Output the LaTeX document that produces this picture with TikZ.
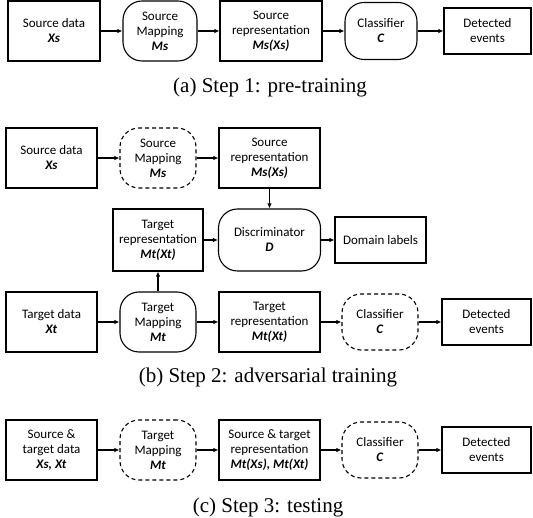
\documentclass[tikz,border=0pt]{standalone}
\usepackage{fontspec}
\setmainfont{Liberation Serif}
\newfontfamily\boxfont{Carlito}
\usetikzlibrary{arrows.meta}
\tikzset{
  base/.style={draw, line width=1.1pt, inner sep=0pt, align=center,
    font=\boxfont\fontsize{13}{15}\selectfont},
  sqbox/.style={base, rectangle},
  rbox/.style={base, rectangle, rounded corners=19pt},
  dbox/.style={rbox, dash pattern=on 4pt off 3pt},
  arr/.style={line width=1.1pt, -{Latex[length=5pt,width=4.5pt]}},
  captxt/.style={font=\fontsize{21}{23}\selectfont, inner sep=0pt},
}
\newcommand{\bi}[1]{\textbf{\textit{#1}}}
\begin{document}
\begin{tikzpicture}[x=1pt,y=-1pt]
\useasboundingbox (0,0) rectangle (533,518);
% (a)
\node[sqbox, minimum width=92pt, minimum height=60pt] (a1) at (54,31) {Source data\\\bi{Xs}};
\node[rbox, minimum width=74pt, minimum height=60pt] (a2) at (160,31) {Source\\Mapping\\\bi{Ms}};
\node[sqbox, minimum width=102pt, minimum height=60pt] (a3) at (271,31) {Source\\representation\\\bi{Ms(Xs)}};
\node[rbox, minimum width=72pt, minimum height=57pt] (a4) at (381,31) {Classifier\\\bi{C}};
\node[sqbox, minimum width=87pt, minimum height=46pt] (a5) at (487.5,31) {Detected\\events};
\draw[arr] (a1) -- (a2);
\draw[arr] (a2) -- (a3);
\draw[arr] (a3) -- (a4);
\draw[arr] (a4) -- (a5);
\node[captxt] (capa) at (270,87) {(a) Step 1: pre-training};
% (b)
\node[sqbox, minimum width=91pt, minimum height=60pt] (b1) at (51.5,158) {Source data\\\bi{Xs}};
\node[dbox, minimum width=76pt, minimum height=60pt] (b2) at (158,158) {Source\\Mapping\\\bi{Ms}};
\node[sqbox, minimum width=101pt, minimum height=60pt] (b3) at (269.5,158) {Source\\representation\\\bi{Ms(Xs)}};
\node[sqbox, minimum width=90pt, minimum height=62pt] (b4) at (158,240) {Target\\representation\\\bi{Mt(Xt)}};
\node[rbox, minimum width=102pt, minimum height=62pt] (b5) at (269.5,240) {Discriminator\\\bi{D}};
\node[sqbox, minimum width=91pt, minimum height=46pt] (b6) at (380.5,240) {Domain labels};
\node[sqbox, minimum width=91pt, minimum height=60pt] (b7) at (51.5,322) {Target data\\\bi{Xt}};
\node[rbox, minimum width=76pt, minimum height=60pt] (b8) at (158,322) {Target\\Mapping\\\bi{Mt}};
\node[sqbox, minimum width=101pt, minimum height=60pt] (b9) at (269.5,322) {Target\\representation\\\bi{Mt(Xt)}};
\node[dbox, minimum width=76pt, minimum height=56pt] (b10) at (380,322) {Classifier\\\bi{C}};
\node[sqbox, minimum width=89pt, minimum height=46pt] (b11) at (486.5,322) {Detected\\events};
\draw[arr] (b1) -- (b2);
\draw[arr] (b2) -- (b3);
\draw[arr] (b3) -- (b5);
\draw[arr] (b4) -- (b5);
\draw[arr] (b5) -- (b6);
\draw[arr] (b8) -- (b4);
\draw[arr] (b7) -- (b8);
\draw[arr] (b8) -- (b9);
\draw[arr] (b9) -- (b10);
\draw[arr] (b10) -- (b11);
\node[captxt] (capb) at (268,377) {(b) Step 2: adversarial training};
% (c)
\node[sqbox, minimum width=91pt, minimum height=60pt] (c1) at (51.5,450) {Source \&\\target data\\\bi{Xs, Xt}};
\node[dbox, minimum width=76pt, minimum height=60pt] (c2) at (158,450) {Target\\Mapping\\\bi{Mt}};
\node[sqbox, minimum width=101pt, minimum height=60pt] (c3) at (269.5,450) {Source \& target\\representation\\\bi{Mt(Xs), Mt(Xt)}};
\node[dbox, minimum width=76pt, minimum height=56pt] (c4) at (380,450) {Classifier\\\bi{C}};
\node[sqbox, minimum width=89pt, minimum height=46pt] (c5) at (486.5,450) {Detected\\events};
\draw[arr] (c1) -- (c2);
\draw[arr] (c2) -- (c3);
\draw[arr] (c3) -- (c4);
\draw[arr] (c4) -- (c5);
\node[captxt] (capc) at (268,507) {(c) Step 3: testing};
\end{tikzpicture}
\end{document}
